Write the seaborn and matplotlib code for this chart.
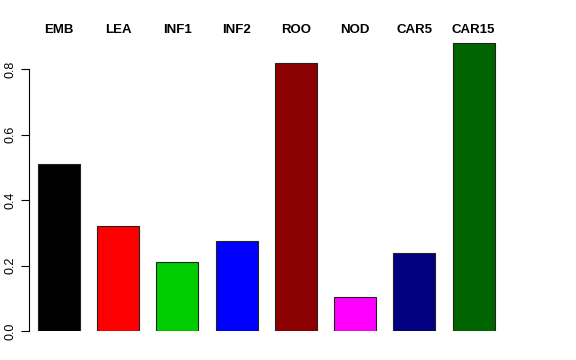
import matplotlib
matplotlib.use("Agg")
import matplotlib.pyplot as plt
import seaborn as sns
import pandas as pd

tissues = ['EMB', 'LEA', 'INF1', 'INF2', 'ROO', 'NOD', 'CAR5', 'CAR15']
values = [0.51, 0.32, 0.21, 0.275, 0.82, 0.104, 0.238, 0.879]
colors = ['#000000', '#FF0000', '#00CD00', '#0000FF', '#8B0000', '#FF00FF', '#000080', '#006400']

df = pd.DataFrame({'tissue': tissues, 'value': values})

sns.set_style('white')
plt.rcParams['font.family'] = ['Liberation Sans', 'DejaVu Sans']
plt.rcParams['text.color'] = 'black'
plt.rcParams['xtick.color'] = 'black'
plt.rcParams['ytick.color'] = 'black'

fig = plt.figure(figsize=(5.76, 3.6), dpi=100)
ax = fig.add_axes([29 / 576, 29 / 360, (560 - 29) / 576, (331 - 40) / 360])

sns.barplot(data=df, x='tissue', y='value', hue='tissue', palette=colors,
            order=tissues, width=0.71, edgecolor='#222222', linewidth=0.8,
            saturation=1, legend=False, ax=ax)

ax.set_xlim(-0.507, 8.46)
ax.set_ylim(0, 0.889)
ax.set_xlabel('')
ax.set_ylabel('')

# category names on top, like R's barplot with axis(3)
ax.xaxis.tick_top()
ax.set_xticks(range(len(tissues)))
ax.set_xticklabels(tissues, fontsize=9.5, fontweight='bold', color='black')
ax.tick_params(axis='x', length=0, pad=2.7)

ax.set_yticks([0.0, 0.2, 0.4, 0.6, 0.8])
ax.set_yticklabels(['0.0', '0.2', '0.4', '0.6', '0.8'], rotation=90, va='center',
                   fontsize=9, color='black')
ax.tick_params(axis='y', left=True, length=6, width=0.8, color='black', pad=3)

for s in ['top', 'right', 'bottom']:
    ax.spines[s].set_visible(False)
ax.spines['left'].set_bounds(0, 0.8)
ax.spines['left'].set_color('black')
ax.spines['left'].set_linewidth(0.8)

fig.savefig('out.png', dpi=100)
